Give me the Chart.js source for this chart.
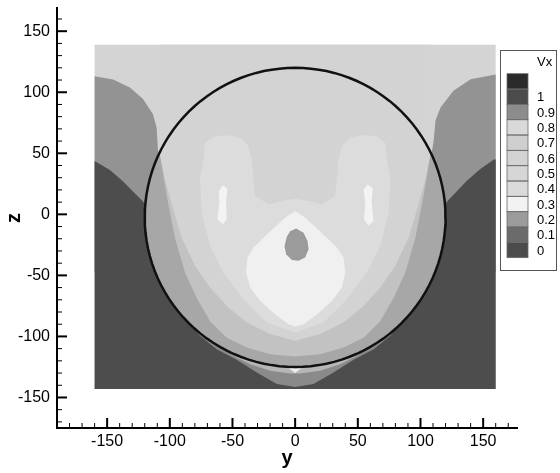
<!DOCTYPE html>
<html>
<head>
<meta charset="utf-8">
<script src="https://cdn.jsdelivr.net/npm/chart.js@4.4.1/dist/chart.umd.min.js"></script>
<style>html,body{margin:0;padding:0;background:#fff;}canvas{display:block;}</style>
</head>
<body>
<canvas id="vx" width="560" height="473"></canvas>
<script>
// ---- axis ticks ----
const Y_TICKS = [-150, -100, -50, 0, 50, 100, 150];
const Z_TICKS = [-150, -100, -50, 0, 50, 100, 150];
const MINOR_STEP = 10;

// ---- Vx contour levels (legend, top to bottom) ----
const LEVEL_LABELS = ['', '1', '0.9', '0.8', '0.7', '0.6', '0.5', '0.4', '0.3', '0.2', '0.1', '0'];
const LEVEL_COLORS = ['#2a2a2a', '#4b4b4b', '#8c8c8c', '#d9d9d9', '#cfcfcf', '#d3d3d3',
                      '#d6d6d6', '#dadada', '#f2f2f2', '#9b9b9b', '#6b6b6b', '#4b4b4b'];

// ---- contour band outlines, points as [y, z] ----
const domain = [[-160, 139], [160, 139], [160, -143], [-160, -143]];

const sidePatchLeft = [[-160, 113.2], [-145.2, 110.5], [-131.8, 103.9], [-121.4, 94.4], [-113.5, 82.1],
  [-110.5, 71.2], [-109.5, 53.2], [-108.7, 49.1], [-108.7, -47.7], [-160, -47.7]];
const sidePatchRight = [[160, 114.5], [140, 110.7], [126.3, 101.2], [116, 87.5], [112, 77],
  [110.5, 60], [108.7, 49.1], [108.7, -47.7], [160, -47.7]];

const outerFlow = [[-160, 43.7], [-147.8, 36.3], [-137.2, 26.8], [-129.2, 18.6], [-122.5, 11.8], [-119, 7.7],
  [119.5, 8.2], [122.5, 12], [129, 19], [137, 27.5], [147.5, 37], [158.5, 45], [160, 45],
  [160, -143], [-160, -143]];

const chin = [[-86.5, -85.9], [-75.9, -99.5], [-62.6, -110.4], [-46.6, -119], [-30.6, -129.5], [-14.6, -139],
  [0, -141.5], [14.6, -139], [30.6, -129.5], [46.6, -119], [62.6, -110.4], [75.9, -99.5], [86.5, -85.9]];
const chinInner = [[-51.9, -114.5], [-35.9, -122.7], [-19.9, -128.1], [-4, -130.3], [4, -130.3],
  [19.9, -128.1], [35.9, -122.7], [51.9, -114.5]];
const chinTip = [[-5, -126], [5, -126], [0, -130]];

const innerBand = [[-107.9, 49.1], [-104.7, 28.7], [-101.2, 8.2], [-95.9, -19.1], [-87.9, -47.7], [-78.6, -68.4],
  [-67.9, -87.5], [-54.6, -101.1], [-38.6, -109.1], [-19.9, -114.5], [0, -116.4], [19.9, -114.5],
  [38.6, -109.1], [54.6, -101.1], [67.9, -87.5], [78.6, -68.4], [87.9, -47.7], [95.9, -19.1],
  [101.2, 8.2], [104.7, 28.7], [107.9, 49.1]];

const core = [[-108.7, 139], [108.7, 139], [108.7, 49.1], [107.9, 49.1], [103.9, 28.7], [98.5, 8.2],
  [90.5, -19.1], [79.9, -42.2], [67.9, -60], [54.6, -75], [38.6, -88.6], [19.9, -98.1], [0, -103.6],
  [-19.9, -98.1], [-38.6, -88.6], [-54.6, -75], [-67.9, -60], [-79.9, -42.2], [-90.5, -19.1],
  [-98.5, 8.2], [-103.9, 28.7], [-107.9, 49.1], [-108.7, 49.1]];

const lobes = [[-73.2, 45], [-71.9, 58.7], [-65.2, 63.6], [-54.6, 64.9], [-43.9, 62.8], [-37.3, 55.9],
  [-34.6, 45], [-33.3, 28.7], [-31.9, 15], [-21.3, 8.2], [-10.6, 10.9], [0, 12.8], [10.6, 10.9],
  [21.3, 8.2], [31.9, 15], [33.3, 28.7], [34.6, 45], [37.3, 55.9], [43.9, 62.8], [54.6, 64.9],
  [65.2, 63.6], [71.9, 58.7], [73.2, 45], [76, 28.7], [74.6, 1.4], [67.9, -25.9], [57.2, -47.7],
  [41.3, -69.5], [22.6, -88.6], [0, -96.8], [-22.6, -88.6], [-41.3, -69.5], [-57.2, -47.7],
  [-67.9, -25.9], [-74.6, 1.4], [-75.9, 28.7]];

const streakLeft = [[-57.8, 23.8], [-54, 21], [-55.1, 9.6], [-54.6, -4.1], [-57.8, -8.2], [-62, -4.1],
  [-60.4, 9.6], [-61, 19.1]];
const streakRight = [[57.8, 24.5], [62, 21.5], [61, 10], [62.6, -5], [58.5, -9.5], [55, -4], [56, 10], [54.6, 20]];

const wakeCore = [[0, 2.8], [-8, -2.7], [-15.9, -10.1], [-25.3, -19.1], [-33.3, -27.2], [-38.1, -35.4],
  [-39.1, -47.7], [-35.9, -60], [-27.9, -70.9], [-15.9, -82.1], [-5.3, -90], [0, -91.9], [6.7, -90],
  [17.4, -82.1], [29.3, -70.9], [37.3, -60], [40, -47.7], [38.7, -35.4], [33.3, -27.2], [25.3, -19.1],
  [16, -10.1], [8, -2.7]];

const wakeSpot = [[0.8, -11.7], [6.7, -15], [9.9, -21.8], [10.7, -28.6], [8, -35.4], [2.7, -38.1],
  [-2.6, -37.3], [-7.2, -32.7], [-8.5, -25.9], [-6.6, -18.2], [-4, -13.9]];

// ---- cylinder outline ----
const CYL_CENTER = [0, -2.5];
const CYL_RADIUS = [120, 122.5];
const cylinder = [];
for (let deg = 0; deg <= 360; deg += 3) {
  const t = deg * Math.PI / 180;
  cylinder.push([CYL_CENTER[0] + CYL_RADIUS[0] * Math.cos(t), CYL_CENTER[1] + CYL_RADIUS[1] * Math.sin(t)]);
}

// bands, painted bottom to top
const bands = [
  [domain, '#d4d4d4'],
  [sidePatchLeft, '#939393'],
  [sidePatchRight, '#939393'],
  [outerFlow, '#4d4d4d'],
  [chin, '#8a8a8a'],
  [chinInner, '#b6b6b6'],
  [chinTip, '#eeeeee'],
  [cylinder, '#a7a7a7'],
  [innerBand, '#c2c2c2'],
  [core, '#d3d3d3'],
  [lobes, '#dcdcdc'],
  [streakLeft, '#f3f3f3'],
  [streakRight, '#f3f3f3'],
  [wakeCore, '#f0f0f0'],
  [wakeSpot, '#9b9b9b']
];

const FONT = '"Liberation Sans", Arial, Helvetica, sans-serif';
const toXY = pts => pts.map(([y, z]) => ({x: y, y: z}));

const datasets = bands.map(([pts, color], i) => ({
  data: toXY(pts),
  showLine: true,
  fill: 'shape',
  backgroundColor: color,
  borderWidth: 0,
  pointRadius: 0,
  tension: 0,
  order: bands.length - i + 1
}));
datasets.push({
  data: toXY(cylinder),
  showLine: true,
  fill: false,
  borderColor: '#111',
  borderWidth: 2.5,
  pointRadius: 0,
  tension: 0,
  order: 0
});

// inward major / minor tick marks on both axes
const tickMarks = {
  id: 'tickMarks',
  afterDraw(chart) {
    const {ctx, chartArea: a, scales: {x, y}} = chart;
    ctx.save();
    ctx.strokeStyle = '#000';
    for (let v = -180; v <= 170; v += MINOR_STEP) {
      const major = Y_TICKS.includes(v);
      const px = x.getPixelForValue(v);
      ctx.lineWidth = major ? 2 : 1;
      ctx.beginPath();
      ctx.moveTo(px, a.bottom);
      ctx.lineTo(px, a.bottom - (major ? 10 : 5));
      ctx.stroke();
    }
    for (let v = -170; v <= 160; v += MINOR_STEP) {
      const major = Z_TICKS.includes(v);
      const py = y.getPixelForValue(v);
      ctx.lineWidth = major ? 2 : 1;
      ctx.beginPath();
      ctx.moveTo(a.left, py);
      ctx.lineTo(a.left + (major ? 10 : 5), py);
      ctx.stroke();
    }
    ctx.restore();
  }
};

// contour level legend
const levelLegend = {
  id: 'levelLegend',
  afterDraw(chart) {
    const ctx = chart.ctx;
    ctx.save();
    ctx.fillStyle = '#fff';
    ctx.fillRect(500.5, 50.5, 56, 220);
    ctx.strokeStyle = '#555';
    ctx.lineWidth = 1;
    ctx.strokeRect(500.5, 50.5, 56, 220);
    ctx.fillStyle = '#000';
    ctx.font = '13px ' + FONT;
    ctx.textAlign = 'left';
    ctx.textBaseline = 'middle';
    ctx.fillText('Vx', 537, 62);
    const top = 73.7, h = 15.33, x0 = 507, w = 21;
    LEVEL_COLORS.forEach((c, i) => {
      ctx.fillStyle = c;
      ctx.fillRect(x0, top + i * h, w, h);
    });
    ctx.strokeStyle = '#6a6a6a';
    ctx.lineWidth = 0.8;
    LEVEL_COLORS.forEach((c, i) => ctx.strokeRect(x0, top + i * h, w, h));
    ctx.fillStyle = '#000';
    LEVEL_LABELS.forEach((t, i) => {
      if (t) ctx.fillText(t, 537, top + (i + 0.5) * h + 1);
    });
    ctx.restore();
  }
};

new Chart(document.getElementById('vx'), {
  type: 'scatter',
  data: {datasets},
  options: {
    responsive: false,
    devicePixelRatio: 1,
    animation: false,
    events: [],
    layout: {padding: {left: 0, top: 8, right: 43, bottom: 0}},
    plugins: {legend: {display: false}, tooltip: {enabled: false}},
    scales: {
      x: {
        type: 'linear', position: 'bottom', min: -190, max: 177,
        afterFit(s) { s.height = 45; s.paddingLeft = 0; s.paddingRight = 0; },
        afterBuildTicks(s) { s.ticks = Y_TICKS.map(v => ({value: v})); },
        grid: {display: false, drawTicks: false},
        border: {display: true, color: '#000', width: 2},
        ticks: {padding: 4, color: '#000', autoSkip: false, maxRotation: 0, font: {family: FONT, size: 16}},
        title: {display: true, text: 'y', color: '#000', padding: {top: 0, bottom: 3},
                font: {family: FONT, size: 20, weight: 'bold'}}
      },
      y: {
        type: 'linear', position: 'left', min: -175, max: 169,
        afterFit(s) { s.width = 57; s.paddingTop = 0; s.paddingBottom = 0; },
        afterBuildTicks(s) { s.ticks = Z_TICKS.map(v => ({value: v})); },
        grid: {display: false, drawTicks: false},
        border: {display: true, color: '#000', width: 2},
        ticks: {padding: 7, color: '#000', autoSkip: false, font: {family: FONT, size: 16}},
        title: {display: true, text: 'z', color: '#000', padding: {top: 2, bottom: 0},
                font: {family: FONT, size: 20, weight: 'bold'}}
      }
    }
  },
  plugins: [tickMarks, levelLegend]
});
</script>
</body>
</html>
